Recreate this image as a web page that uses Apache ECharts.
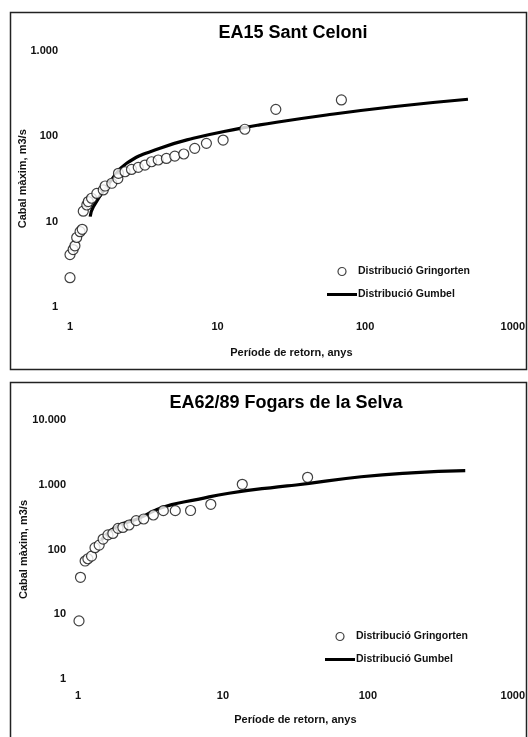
<!DOCTYPE html>
<html>
<head>
<meta charset="utf-8">
<script src="https://cdn.jsdelivr.net/npm/echarts@6/dist/echarts.min.js"></script>
<style>
  html, body { margin: 0; padding: 0; background: #fff; }
  #chart { width: 528px; height: 737px; }
</style>
</head>
<body>
<div id="chart"></div>
<script>
// EA15 Sant Celoni - observats (Gringorten) i ajust Gumbel
var topObsT = [1.0, 1.0, 1.05, 1.08, 1.11, 1.17, 1.21, 1.23, 1.30, 1.33, 1.40, 1.52, 1.68, 1.73, 1.92, 2.11, 2.13, 2.36, 2.61, 2.90, 3.22, 3.57, 3.96, 4.5, 5.13, 5.9, 7.0, 8.4, 10.9, 15.3, 24.8, 69];
var topObsQ = [2.2, 4.1, 4.7, 5.2, 6.5, 7.6, 8.1, 13.2, 15.6, 17.1, 18.7, 21.3, 23.4, 26, 28, 31.8, 36.6, 38.2, 40.6, 43, 45.7, 50, 52.4, 54.6, 58.2, 61.6, 71.7, 82, 89.6, 120, 205, 264];
var topGumT = [1.37, 1.44, 1.87, 2.42, 4.07, 6.85, 14.2, 19.3, 54.7, 154, 497];
var topGumQ = [11.4, 14.9, 29.2, 48, 71.8, 94, 123, 135, 176, 220, 269];

// EA62/89 Fogars de la Selva
var botObsT = [1.016, 1.04, 1.12, 1.17, 1.24, 1.31, 1.40, 1.49, 1.61, 1.74, 1.89, 2.04, 2.25, 2.52, 2.84, 3.31, 3.88, 4.69, 5.98, 8.25, 13.6, 38.4];
var botObsQ = [7.9, 37.2, 66.4, 72, 79, 106.6, 117, 145, 168, 177, 212, 219, 239, 279, 296, 341, 398, 398, 400, 499, 1016, 1303];
var botGumT = [1.45, 1.85, 2.65, 3.85, 6.85, 11, 24, 32, 90, 200, 470];
var botGumQ = [140, 225, 305, 450, 600, 740, 930, 990, 1330, 1530, 1650];

var titles = ['EA15 Sant Celoni', 'EA62/89 Fogars de la Selva'];
var seriesNames = ['Distribució Gringorten', 'Distribució Gumbel'];
var xName = 'Període de retorn, anys';
var yName = 'Cabal màxim, m3/s';

function pairs(a, b) {
    var out = [];
    for (var i = 0; i < a.length; i++) {
        out.push([a[i], b[i]]);
    }
    return out;
}

// 1000 -> "1.000"
function fmtDot(v) {
    return String(Math.round(v)).replace(/\B(?=(\d{3})+(?!\d))/g, '.');
}

var font = '"Liberation Sans", Arial, sans-serif';
var lbl = { color: '#111', fontFamily: font, fontWeight: 'bold', fontSize: 11 };

function xAxis(idx, margin, gap) {
    return {
        type: 'log', logBase: 10, gridIndex: idx, min: 1, max: 1000,
        axisLine: { show: false }, axisTick: { show: false }, splitLine: { show: false },
        axisLabel: Object.assign({ margin: margin, formatter: function (v) { return String(Math.round(v)); } }, lbl),
        name: xName, nameLocation: 'middle', nameGap: gap, nameMoveOverlap: false,
        nameTextStyle: { color: '#111', fontFamily: font, fontWeight: 'bold', fontSize: 11 }
    };
}

function yAxis(idx, max, gap) {
    return {
        type: 'log', logBase: 10, gridIndex: idx, min: 1, max: max,
        axisLine: { show: false }, axisTick: { show: false }, splitLine: { show: false },
        axisLabel: Object.assign({ margin: 12, formatter: fmtDot }, lbl),
        name: yName, nameLocation: 'middle', nameGap: gap, nameRotate: 90, nameMoveOverlap: false,
        nameTextStyle: { color: '#111', fontFamily: font, fontWeight: 'bold', fontSize: 11 }
    };
}

function scatter(idx, data) {
    return {
        name: seriesNames[0], type: 'scatter', xAxisIndex: idx, yAxisIndex: idx,
        data: data, symbol: 'circle', symbolSize: 10, z: 3,
        itemStyle: { color: '#fff', borderColor: '#111', borderWidth: 1.2 }
    };
}

function gumbel(idx, data) {
    return {
        name: seriesNames[1], type: 'line', xAxisIndex: idx, yAxisIndex: idx,
        data: data, symbol: 'none', smooth: true, z: 2,
        itemStyle: { color: '#000' },
        lineStyle: { color: '#000', width: 3.2 }
    };
}

function legend(left, top) {
    return {
        data: [
            { name: seriesNames[0], icon: 'circle', itemStyle: { color: '#fff', borderColor: '#111', borderWidth: 1.2 } },
            { name: seriesNames[1], icon: 'path://M0,0L30,0L30,3L0,3Z', itemStyle: { color: '#000', borderWidth: 0 } }
        ],
        orient: 'vertical', left: left, top: top,
        itemWidth: 30, itemHeight: 8, itemGap: 12,
        selectedMode: false,
        textStyle: { color: '#111', fontFamily: font, fontWeight: 'bold', fontSize: 10.5, padding: [0, 0, 0, -4] }
    };
}

var myChart = echarts.init(document.getElementById('chart'));

var option = {
    animation: false,
    backgroundColor: '#fff',
    grid: [
        { left: 70, top: 50.5, width: 443, height: 256.5 },
        { left: 78, top: 420, width: 438, height: 259 }
    ],
    xAxis: [xAxis(0, 14, 40), xAxis(1, 11, 35)],
    yAxis: [yAxis(0, 1000, 42), yAxis(1, 10000, 49)],
    legend: [legend(322, 261), legend(320, 626)],
    graphic: [
        { type: 'rect', shape: { x: 10.5, y: 12.5, width: 516, height: 357 }, style: { fill: 'none', stroke: '#222', lineWidth: 1.5 } },
        { type: 'rect', shape: { x: 10.5, y: 382.5, width: 516, height: 370 }, style: { fill: 'none', stroke: '#222', lineWidth: 1.5 } },
        { type: 'text', x: 293, y: 33.5, style: { text: titles[0], fill: '#000', font: 'bold 18px ' + font, textAlign: 'center', textVerticalAlign: 'middle' } },
        { type: 'text', x: 286, y: 403.5, style: { text: titles[1], fill: '#000', font: 'bold 18px ' + font, textAlign: 'center', textVerticalAlign: 'middle' } }
    ],
    series: [
        gumbel(0, pairs(topGumT, topGumQ)),
        scatter(0, pairs(topObsT, topObsQ)),
        gumbel(1, pairs(botGumT, botGumQ)),
        scatter(1, pairs(botObsT, botObsQ))
    ]
};

myChart.setOption(option);
</script>
</body>
</html>
